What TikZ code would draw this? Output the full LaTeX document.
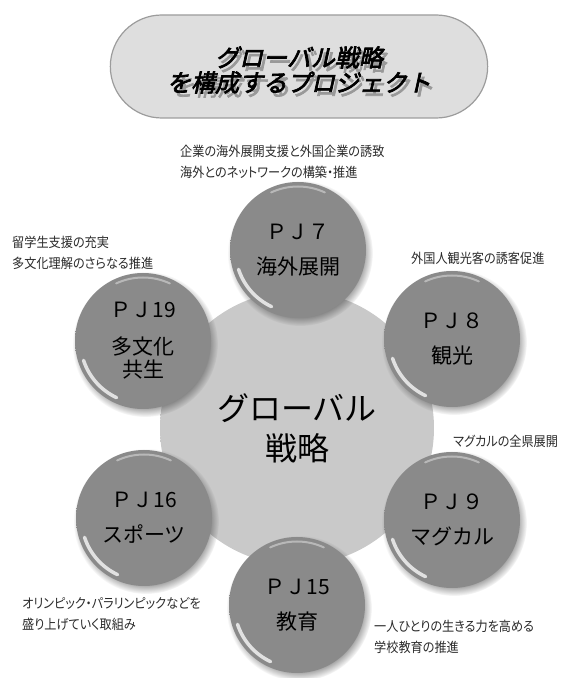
\documentclass[tikz,border=0pt]{standalone}
\usepackage{fontspec}
\setmainfont{Noto Sans CJK JP}
\newfontfamily\jpfont{Noto Sans CJK JP}
\newfontfamily\notefont[FakeStretch=0.9,RawFeature=+palt]{Noto Sans CJK JP}
\newfontfamily\titlefont[FakeSlant=0.22,FakeBold=3]{Noto Sans CJK JP}
\usepackage{xcolor}
\usepackage{tikz}
\usetikzlibrary{shapes.misc, shadows, fadings, positioning}

\definecolor{balltone}{HTML}{8A8A8A}
\definecolor{hubtone}{HTML}{C9C9C9}
\definecolor{captone}{HTML}{DEDEDE}
\definecolor{capline}{HTML}{9C9C9C}
\definecolor{notetone}{HTML}{2A2A2A}

\pgfdeclareradialshading{ballshade}{\pgfpoint{0bp}{0bp}}{color(0bp)=(balltone); color(41bp)=(balltone); color(45.5bp)=(balltone!70!white); color(48bp)=(balltone!85!white); color(50bp)=(balltone!65!black)}
\pgfdeclareradialshading{hubshade}{\pgfpoint{0bp}{0bp}}{color(0bp)=(hubtone); color(42.5bp)=(hubtone); color(46.5bp)=(white!96!black); color(48.5bp)=(white!90!black); color(50bp)=(black!30)}

\newcommand\ballfont{\jpfont\fontsize{21}{23}\selectfont}
\newcommand\hubfont{\jpfont\fontsize{32}{40}\selectfont}
\newcommand\notesize{\notefont\fontsize{13.5}{21}\selectfont}
\newcommand\titlesize{\titlefont\fontsize{24}{25}\selectfont}

\begin{document}
\begin{tikzpicture}[x=1pt, y=1pt,
    ball/.style={circle, minimum size=136pt, inner sep=0pt, shading=ballshade, align=center, font=\ballfont,
        circular drop shadow={shadow xshift=2pt, shadow yshift=-3pt, shadow scale=1.07, opacity=0.55, fill=black!75}},
    hub/.style={circle, minimum size=274pt, inner sep=0pt, shading=hubshade, align=center, font=\hubfont},
    note/.style={anchor=west, align=left, inner sep=0pt, font=\notesize, text=notetone},
    gloss/.style={white, line width=3.5pt, line cap=round, opacity=0.75},
    capsule/.style={rounded rectangle, draw=capline, line width=1.2pt, fill=captone, minimum width=384pt, minimum height=103pt}
]
\useasboundingbox (0,0) rectangle (562,678);

% Title
\node[capsule] (cap) at (299,611.5) {};
\node[font=\titlesize, text=black!40, align=center] (titleshadow) at (302,604) {グローバル戦略\\を構成するプロジェクト};
\node[font=\titlesize, align=center] (title) at (299,608) {グローバル戦略\\を構成するプロジェクト};

% Hub
\node[hub] (hub) at (297,250) {グローバル\\戦略};

% Projects
\node[ball] (pj7) at (298,428) {ＰＪ７\\[12pt]海外展開};
\node[ball] (pj8) at (452,339) {ＰＪ８\\[12pt]観光};
\node[ball] (pj9) at (452,158) {ＰＪ９\\[12pt]マグカル};
\node[ball] (pj15) at (297,73) {ＰＪ15\\[12pt]教育};
\node[ball] (pj16) at (144,160) {ＰＪ16\\[12pt]スポーツ};
\node[ball] (pj19) at (143,337) {ＰＪ19\\[14pt]多文化\\共生};

\foreach \b in {pj7,pj8,pj9,pj15,pj16,pj19} {
  \draw[gloss] ([shift={(198:62.5)}]\b.center) arc[start angle=198, end angle=245, radius=62.5];
  \draw[gloss, line width=2pt, opacity=0.4] ([shift={(65:63.5)}]\b.center) arc[start angle=65, end angle=115, radius=63.5];
}

% Notes
\node[note] (note7) at (180,516) {企業の海外展開支援と外国企業の誘致\\海外とのネットワークの構築・推進};
\node[note] (note19) at (12,425.5) {留学生支援の充実\\多文化理解のさらなる推進};
\node[note] (note8) at (411,420) {外国人観光客の誘客促進};
\node[note] (note9) at (453,237) {マグカルの全県展開};
\node[note] (note16) at (22,64) {オリンピック・パラリンピックなどを\\盛り上げていく取組み};
\node[note] (note15) at (374,41) {一人ひとりの生きる力を高める\\学校教育の推進};

\end{tikzpicture}
\end{document}
